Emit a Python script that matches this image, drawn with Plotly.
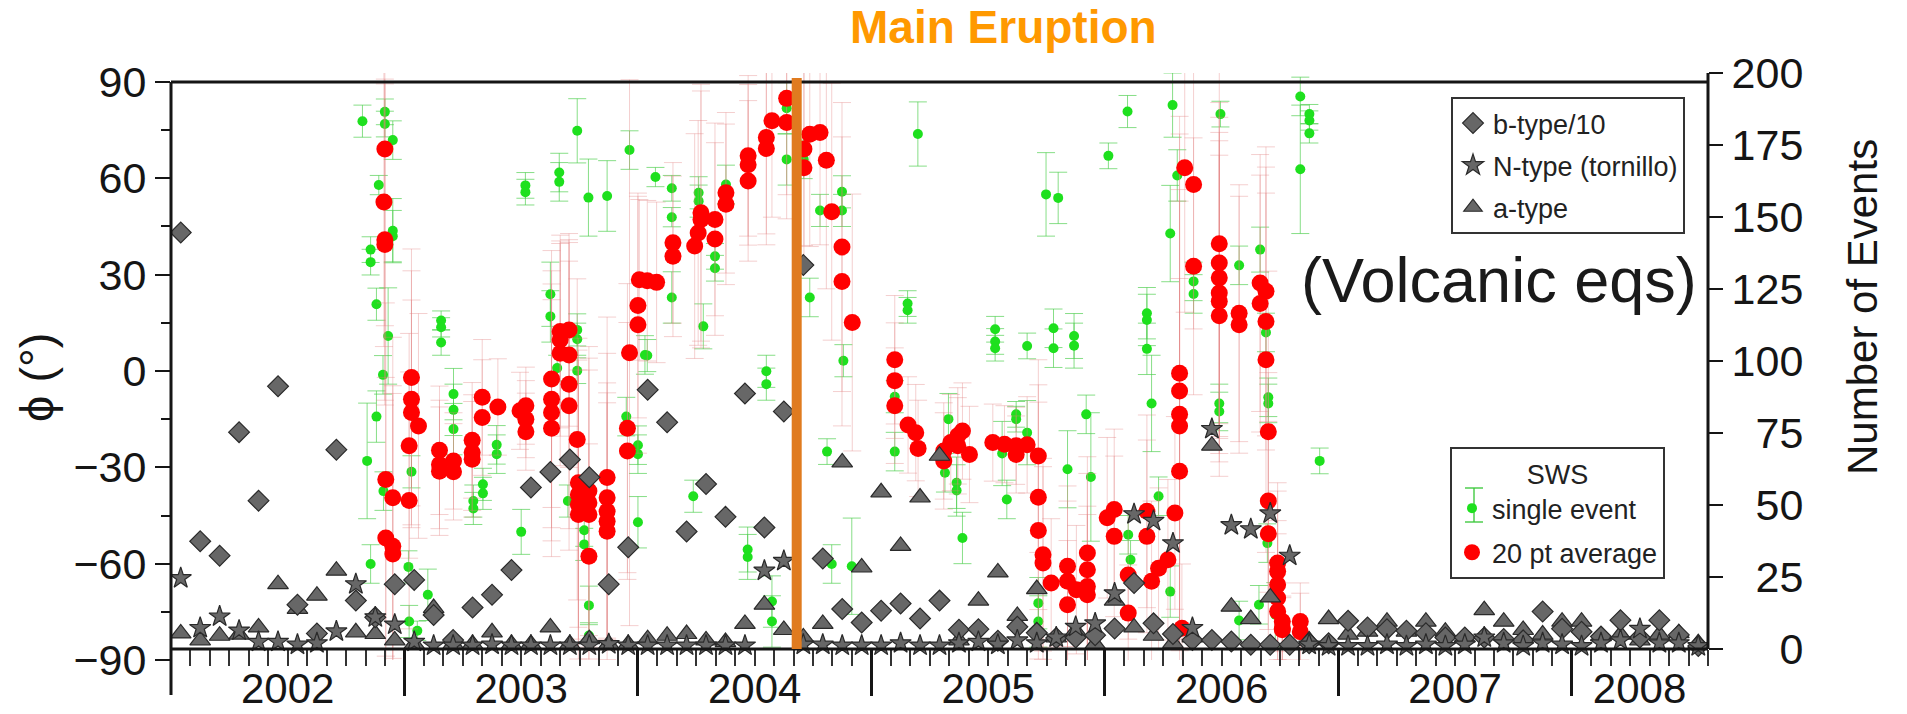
import plotly.graph_objects as go

# ------------------------------------------------------------------ data
# monthly bins Jan 2002 .. Jul 2008 (bin centres, decimal years)
MONTHS = [2002 + (i + 0.5) / 12 for i in range(79)]

B_TYPE_10 = [
    144.6, 37.4, 32.4, 75.3, 51.5, 91.2, 15.4, 5.4, 69.2, 16.8, 11.0, 22.5,
    24.0, 11.8, 3.1, 14.4, 18.8, 27.4, 56.1, 61.5, 65.8, 59.6, 22.5, 35.3,
    90.0, 78.7, 40.8, 57.3, 45.9, 88.7, 42.2, 82.5, 133.3, 31.4, 13.9, 9.2,
    13.3, 15.8, 10.6, 16.8, 6.7, 6.9, 2.9, 7.7, 5.6, 3.8, 4.0, 4.8,
    7.1, 22.9, 8.9, 5.2, 3.1, 3.1, 2.6, 1.5, 1.5, 1.5, 2.0, 2.0,
    9.8, 7.5, 6.9, 6.3, 5.5, 4.0, 4.0, 4.0, 3.5, 3.0, 13.0, 7.0,
    6.0, 4.3, 10.0, 4.0, 10.0, 4.9, 1.0,
]
N_TYPE = [
    24.6, 7.3, 11.3, 6.4, 2.5, 2.5, 1.5, 2.0, 6.1, 22.5, 11.0, 8.5,
    2.5, 1.2, 1.2, 1.2, 1.5, 1.2, 1.2, 1.2, 1.2, 1.2, 1.7, 1.2,
    1.2, 1.2, 1.2, 1.2, 1.2, 1.2, 27.2, 30.6, 1.5, 1.5, 1.2, 1.2,
    1.2, 2.0, 1.2, 1.2, 2.0, 2.5, 1.5, 3.0, 2.0, 4.0, 7.7, 8.9,
    19.3, 46.8, 44.5, 36.7, 7.3, 76.4, 43.0, 41.6, 47.1, 32.4, 1.5, 1.0,
    1.0, 1.0, 1.5, 1.0, 1.5, 1.0, 1.5, 4.0, 2.0, 1.0, 2.0, 1.5,
    1.0, 2.0, 3.0, 7.0, 2.0, 2.0, 1.0,
]
A_TYPE = [
    5.4, 3.0, 4.6, 5.0, 7.5, 22.5, 13.9, 18.5, 27.2, 5.8, 5.2, 3.0,
    1.7, 14.2, 1.7, 1.7, 5.8, 1.7, 1.7, 7.5, 1.7, 3.4, 1.7, 1.7,
    3.4, 4.6, 5.2, 3.0, 2.4, 8.7, 15.4, 6.6, 4.0, 8.7, 64.8, 28.3,
    54.4, 35.8, 52.6, 67.1, 3.0, 16.8, 26.6, 11.5, 20.8, 4.0, 6.3, 1.7,
    16.8, 7.5, 4.6, 2.0, 4.0, 70.6, 14.7, 10.4, 17.9, 1.7, 3.0, 10.4,
    5.0, 6.0, 9.5, 6.0, 9.5, 6.0, 4.0, 13.5, 9.5, 6.6, 5.0, 9.5,
    9.5, 4.5, 5.0, 3.0, 5.0, 5.5, 2.0,
]

# SWS single events: time (decimal year), phi (deg), error (deg)
GREEN_X = [
    2002.820, 2002.916, 2002.916, 2002.950, 2002.890, 2002.950, 2002.950, 2002.855,
    2002.855, 2002.880, 2002.930, 2003.157, 2003.157, 2003.157, 2003.518, 2003.518,
    2003.663, 2003.663, 2003.740, 2003.788, 2003.868, 2003.964, 2004.075, 2004.145,
    2004.145, 2004.145, 2003.625, 2003.625, 2003.740, 2003.740, 2004.030, 2004.260,
    2004.260, 2004.280, 2004.330, 2004.330, 2004.377, 2004.637, 2004.637, 2004.710,
    2004.736, 2004.780, 2004.874, 2004.874, 2005.199, 2005.155, 2005.155, 2005.530,
    2005.530, 2005.530, 2005.667, 2005.748, 2005.800, 2005.780, 2005.780, 2005.868,
    2005.868, 2006.015, 2006.097, 2006.180, 2006.180, 2006.180, 2006.290, 2006.310,
    2006.280, 2006.380, 2006.380, 2006.495, 2006.575, 2006.665, 2006.690, 2006.837,
    2006.876, 2006.876, 2006.876, 2006.837,
    2002.908, 2002.880, 2002.840, 2002.910, 2002.855, 2003.017, 2003.100, 2003.055,
    2003.020, 2003.030, 2003.210, 2003.210, 2003.210, 2003.295, 2003.295, 2003.336,
    2003.336, 2003.395, 2003.395, 2003.500, 2003.654, 2003.740, 2003.700, 2003.770,
    2003.770, 2003.790, 2003.790, 2003.950, 2004.000, 2004.000, 2004.000, 2004.040,
    2004.237, 2004.880, 2004.810, 2004.470, 2004.470, 2004.830, 2004.916, 2004.550,
    2004.550, 2004.574, 2004.574, 2005.100, 2005.100, 2005.330, 2005.315, 2005.365,
    2005.365, 2005.390, 2005.560, 2005.580, 2005.620, 2005.620, 2005.667, 2005.840,
    2005.920, 2005.940, 2006.100, 2006.110, 2006.200, 2006.230, 2006.280, 2006.490,
    2006.490, 2006.660, 2006.700, 2006.700, 2006.575, 2005.715, 2005.715, 2006.696,
    2006.730, 2006.920,
]
GREEN_Y = [
    77.8, 80.7, 76.9, 71.9, 57.9, 43.7, 42.0, 37.8,
    33.9, 20.8, 10.9, 15.7, 13.6, 8.9, 57.8, 55.7,
    61.8, 58.9, 74.8, 54.0, 54.5, 68.8, 60.4, 56.9,
    47.9, 22.9, 23.9, 17.0, 12.8, 9.9, 5.0, 55.5,
    52.9, 13.9, 35.7, 32.0, 58.1, 81.8, 65.9, 65.9,
    22.9, 50.0, 55.8, 50.0, 73.8, 21.0, 18.9, 13.0,
    9.2, 7.1, 7.8, 55.0, 53.9, 13.3, 7.1, 10.9,
    7.9, 67.0, 80.8, 18.0, 15.9, 6.9, 82.8, 60.9,
    42.8, 27.9, 24.0, 80.0, 32.9, 37.8, 12.0, 85.5,
    80.0, 78.0, 74.0, 62.8,
    -1.2, -14.2, -28.0, -37.4, -60.1, -61.0, -69.7, -80.9,
    -78.0, -31.4, -7.2, -12.1, -18.1, -40.5, -42.8, -35.3,
    -38.1, -23.0, -25.9, -50.1, 0.9, 0.1, -40.5, -49.6,
    -54.0, -73.0, -82.4, -14.2, -23.1, -25.9, -47.1, 4.8,
    -39.0, 3.2, -25.1, -55.6, -57.9, -60.1, -60.8, -0.1,
    -4.1, -71.8, -78.0, -25.1, -8.0, -15.0, -31.7, -34.8,
    -37.2, -52.0, -25.7, -40.0, -13.5, -15.0, -19.2, -30.6,
    -13.5, -33.0, -51.0, -58.8, -10.1, -39.0, -68.7, -10.1,
    -12.6, -72.8, -8.2, -10.1, -77.7, -72.3, -78.0, -53.6,
    -75.9, -28.0,
]
GREEN_ERR = [
    5, 4, 4, 6, 3, 10, 8, 4,
    4, 5, 15, 3, 3, 4, 4, 4,
    6, 6, 10, 12, 11, 6, 3, 4,
    3, 8, 10, 8, 5, 5, 6, 5,
    5, 7, 4, 4, 6, 8, 8, 6,
    6, 5, 5, 5, 10, 4, 4, 4,
    4, 4, 4, 13, 8, 6, 6, 7,
    7, 4, 5, 8, 8, 8, 10, 8,
    15, 6, 6, 4, 6, 7, 6, 6,
    3, 3, 3, 20,
    6, 8, 18, 6, 6, 5, 8, 3,
    5, 5, 8, 8, 8, 5, 5, 5,
    5, 6, 6, 7, 4, 4, 5, 5,
    5, 6, 4, 6, 6, 6, 8, 5,
    5, 5, 4, 7, 7, 6, 15, 5,
    5, 8, 8, 6, 5, 8, 6, 8,
    8, 8, 10, 6, 4, 4, 10, 12,
    6, 20, 6, 6, 15, 6, 8, 6,
    6, 6, 6, 6, 6, 8, 8, 6,
    10, 4,
]

# SWS 20-point running averages: time, phi, error
RED_X = [
    2002.916, 2002.912, 2002.916, 2002.916,
    2003.667, 2003.705, 2003.667, 2003.667, 2003.705,
    2003.964,
    2004.000, 2004.000,
    2004.006, 2004.040, 2004.080,
    2004.150, 2004.150,
    2004.243, 2004.258, 2004.270, 2004.270, 2004.330, 2004.330,
    2004.377, 2004.377,
    2004.472, 2004.472, 2004.472,
    2004.550, 2004.550,
    2004.574,
    2004.637, 2004.637,
    2004.711, 2004.711,
    2004.736, 2004.780,
    2004.807, 2004.830,
    2004.874, 2004.874,
    2004.918,
    2005.100,
    2006.342, 2006.380, 2006.380,
    2006.490, 2006.490, 2006.490, 2006.490, 2006.490, 2006.490,
    2006.575, 2006.575,
    2006.665, 2006.690, 2006.665, 2006.690, 2006.690,
    2002.920, 2002.950, 2002.920, 2002.950, 2002.950,
    2003.030, 2003.030, 2003.030, 2003.060, 2003.020, 2003.020,
    2003.150, 2003.150, 2003.150,
    2003.210, 2003.210,
    2003.290, 2003.290, 2003.290,
    2003.333, 2003.333,
    2003.400,
    2003.495, 2003.520, 2003.520, 2003.520,
    2003.630, 2003.630, 2003.630, 2003.630,
    2003.705, 2003.705,
    2003.740, 2003.745, 2003.745, 2003.745, 2003.745,
    2003.790, 2003.790, 2003.790, 2003.790,
    2003.868, 2003.868, 2003.868, 2003.868, 2003.868,
    2003.955, 2003.955,
    2005.100, 2005.100,
    2005.157, 2005.190, 2005.200,
    2005.310, 2005.310, 2005.340, 2005.370, 2005.370, 2005.390, 2005.420,
    2005.520, 2005.570, 2005.620, 2005.620, 2005.667,
    2005.715, 2005.715, 2005.715, 2005.735, 2005.735,
    2005.770,
    2005.840, 2005.840, 2005.840,
    2005.925, 2005.925, 2005.925, 2005.925,
    2005.878,
    2006.010, 2006.040, 2006.040,
    2006.100, 2006.100,
    2006.180, 2006.180,
    2006.200, 2006.230, 2006.270, 2006.300,
    2006.320, 2006.320, 2006.320, 2006.320, 2006.320,
    2006.330,
    2006.700, 2006.700, 2006.700,
    2006.740, 2006.740, 2006.740, 2006.740, 2006.740,
    2006.760, 2006.760, 2006.760,
    2006.837, 2006.837,
]
RED_Y = [
    69.1, 52.6, 40.9, 39.4,
    12.3, 12.8, 9.7, 5.5, 5.0,
    5.7,
    20.4, 14.4,
    28.4, 28.1, 27.6,
    39.9, 35.7,
    38.9, 43.0, 47.2, 49.3, 47.2, 41.1,
    55.5, 51.9,
    67.0, 64.2, 59.2,
    69.3, 72.7,
    77.9,
    84.9, 77.4,
    69.1, 63.3,
    73.75, 74.3,
    65.6, 49.6,
    38.6, 27.9,
    15.1,
    3.5,
    63.3, 58.1, 32.6,
    39.6, 33.6, 29.0, 24.3, 21.7, 17.2,
    18.0, 14.4,
    27.4, 24.8, 21.0, 15.4, 3.5,
    -33.8, -39.5, -52.0, -54.6, -57.0,
    -2.0, -8.8, -12.9, -17.1, -23.3, -40.3,
    -24.7, -29.1, -31.2,
    -28.0, -31.4,
    -21.6, -25.4, -27.5,
    -8.2, -14.5,
    -11.2,
    -12.4, -10.8, -15.0, -18.9,
    -2.5, -8.8, -12.9, -17.8,
    -4.1, -10.8,
    -21.3, -34.8, -38.5, -41.6, -44.7,
    -37.4, -41.0, -44.7, -57.7,
    -33.2, -39.5, -43.7, -46.8, -49.9,
    -17.8, -24.9,
    -3.0, -10.8,
    -16.8, -19.2, -24.1,
    -24.9, -28.0, -22.3, -20.2, -23.3, -18.7, -26.0,
    -22.3, -22.8, -23.3, -26.0, -23.0,
    -26.5, -39.3, -49.7, -57.2, -59.8,
    -66.0,
    -60.8, -65.5, -72.8,
    -56.7, -61.9, -67.1, -69.7,
    -68.1,
    -45.7, -43.1, -51.5,
    -63.5, -75.4,
    -43.7, -51.5,
    -65.5, -61.4, -58.8, -44.2,
    -0.7, -6.2, -13.5, -17.1, -31.2,
    -80.1,
    -18.9, -40.5, -50.7,
    -59.8, -62.4, -66.6, -70.7, -74.9,
    -78.0, -80.1, -80.6,
    -78.0, -81.2,
]
RED_ERR = [
    55, 45, 50, 50,
    30, 30, 30, 35, 35,
    85,
    35, 40,
    25, 25, 25,
    25, 25,
    35, 35, 40, 40, 30, 30,
    25, 25,
    25, 25, 25,
    30, 30,
    30,
    30, 30,
    30, 30,
    35, 35,
    40, 40,
    45, 45,
    40,
    20,
    45, 45, 40,
    60, 50, 50, 50, 50, 50,
    40, 40,
    40, 45, 40, 40, 60,
    55, 50, 50, 50, 50,
    40, 40, 35, 35, 35, 40,
    20, 20, 20,
    15, 15,
    18, 18, 18,
    18, 18,
    15,
    12, 12, 12, 12,
    40, 40, 40, 40,
    45, 45,
    50, 45, 45, 45, 45,
    45, 45, 45, 35,
    50, 45, 40, 40, 40,
    45, 40,
    18, 18,
    15, 15, 15,
    15, 15, 15, 15, 15, 15, 15,
    12, 12, 12, 12, 15,
    30, 35, 40, 30, 30,
    20,
    25, 25, 20,
    30, 30, 25, 25,
    20,
    25, 25, 25,
    20, 15,
    30, 30,
    25, 25, 25, 30,
    80, 80, 70, 70, 60,
    20,
    50, 40, 35,
    25, 25, 20, 20, 15,
    12, 10, 10,
    12, 12,
]

ERUPTION = 2004.68          # main eruption (Sep 2004)
YEAR_LABELS = ["2002", "2003", "2004", "2005", "2006", "2007", "2008"]
YEAR_CENTERS = [2002.5, 2003.5, 2004.5, 2005.5, 2006.5, 2007.5, 2008.29]
YEAR_BOUNDS = [2003, 2004, 2005, 2006, 2007, 2008]
MONTH_TICKS = [2002 + k / 12 for k in range(80)]
X_RANGE = [2002.0, 2008 + 7 / 12]
PHI_TICKS = [-90, -60, -30, 0, 30, 60, 90]
PHI_MINOR = [-75, -45, -15, 15, 45, 75]
COUNT_TICKS = [0, 25, 50, 75, 100, 125, 150, 175, 200]

# ------------------------------------------------------------------ layout geometry
W, H = 1907, 714
ML, MR, MT, MB = 171, 199, 73, 54
PW, PH = W - ML - MR, H - MT - MB


def px_x(px):
    return (px - ML) / PW


def px_y(py):
    return (H - MB - py) / PH


FONT = "Liberation Sans, Arial, Helvetica, sans-serif"
INK = "#151515"
FS = "\u2007"

fig = go.Figure()

fig.add_trace(go.Scatter(
    x=GREEN_X, y=GREEN_Y, mode="markers", name="single event",
    marker=dict(color="#1ee01e", size=10),
    error_y=dict(type="data", array=GREEN_ERR, color="rgba(70,205,70,0.65)",
                 thickness=1, width=9),
    legend="legend2", legendgroup="g", legendrank=1,
))
fig.add_trace(go.Scatter(
    x=RED_X, y=RED_Y, mode="markers", name="20 pt average",
    marker=dict(color="#ff0000", size=17),
    error_y=dict(type="data", array=RED_ERR, color="rgba(225,130,130,0.38)",
                 thickness=1, width=9),
    legend="legend2", legendgroup="r", legendrank=2,
))

GRAY = dict(color="#676767", line=dict(color="#2a2a2a", width=1.2))
for name, vals, sym, size, rank in [
    ("a-type", A_TYPE, "triangle-up", 18, 3),
    ("b-type/10", B_TYPE_10, "diamond", 16, 1),
    ("N-type (tornillo)", N_TYPE, "star", 16, 2),
]:
    fig.add_trace(go.Scatter(
        x=MONTHS, y=vals, xaxis="x2", yaxis="y2", mode="markers", name=name,
        marker=dict(symbol=sym, size=size, **GRAY),
        legend="legend", legendgroup=name, legendrank=rank,
    ))

axis_pos = px_y(649)
LEG_EB_X, LEG_EB_Y = px_x(1474), px_y(505)   # error-bar glyph in SWS legend
EB_COL = "rgba(60,200,60,0.9)"
fig.update_layout(
    width=W, height=H,
    margin=dict(l=ML, r=MR, t=MT, b=MB, pad=0, autoexpand=False),
    paper_bgcolor="white", plot_bgcolor="white",
    font=dict(family=FONT, color=INK),
    showlegend=True,
    xaxis=dict(
        range=X_RANGE, anchor="free", position=axis_pos, automargin=False,
        tickmode="array", tickvals=YEAR_CENTERS, ticktext=YEAR_LABELS,
        ticks="outside", ticklen=3, tickcolor="rgba(0,0,0,0)",
        tickfont=dict(size=42, family=FONT, color=INK),
        showline=False, showgrid=False, zeroline=False,
        minor=dict(tickmode="array", tickvals=MONTH_TICKS, ticks="outside",
                   ticklen=16, tickwidth=1.5, tickcolor="#333", showgrid=False),
    ),
    xaxis2=dict(
        range=X_RANGE, overlaying="x", anchor="free", position=axis_pos,
        automargin=False,
        tickmode="array", tickvals=YEAR_BOUNDS, ticks="outside", ticklen=46,
        tickwidth=2.5, tickcolor=INK, showticklabels=False,
        showline=False, showgrid=False, zeroline=False,
    ),
    yaxis=dict(
        range=[-90, 92.8], tickmode="array", tickvals=PHI_TICKS, automargin=False,
        ticks="outside", ticklen=15, tickwidth=2, tickcolor=INK,
        tickfont=dict(size=43, family=FONT, color=INK),
        showline=False, showgrid=False, zeroline=False,
        minor=dict(tickmode="array", tickvals=PHI_MINOR, ticks="outside",
                   ticklen=9, tickwidth=2, tickcolor=INK, showgrid=False),
    ),
    yaxis2=dict(
        range=[-3.82, 200], overlaying="y", side="right", automargin=False,
        tickmode="array", tickvals=COUNT_TICKS,
        ticktext=[f"{v:>3}".replace(" ", FS) for v in COUNT_TICKS],
        ticks="outside", ticklen=14, tickwidth=2, tickcolor=INK,
        tickfont=dict(size=43, family=FONT, color=INK),
        showline=False, showgrid=False, zeroline=False,
    ),
    legend=dict(
        x=px_x(1451), y=px_y(97), xanchor="left", yanchor="top",
        bgcolor="white", bordercolor="#333", borderwidth=2,
        font=dict(size=27, family=FONT, color="#222"),
        tracegroupgap=4,
    ),
    legend2=dict(
        x=px_x(1450), y=px_y(447), xanchor="left", yanchor="top",
        bgcolor="rgba(255,255,255,0)", bordercolor="#333", borderwidth=2,
        font=dict(size=27, family=FONT, color="#222"),
        title=dict(text="SWS", side="top center",
                   font=dict(size=27, family=FONT, color="#222")),
        tracegroupgap=6, entrywidth=190,
    ),
    shapes=[
        dict(type="line", xref="paper", yref="y", x0=0, x1=1, y0=90, y1=90,
             line=dict(color=INK, width=3)),
        dict(type="line", xref="paper", yref="y2", x0=0, x1=1, y0=0, y1=0,
             line=dict(color=INK, width=3)),
        dict(type="line", xref="paper", yref="paper", x0=0, x1=0,
             y0=px_y(695), y1=px_y(82), line=dict(color=INK, width=3)),
        dict(type="line", xref="paper", yref="y2", x0=1, x1=1, y0=0, y1=200,
             line=dict(color=INK, width=3)),
        dict(type="line", xref="x", yref="paper", x0=ERUPTION, x1=ERUPTION,
             y0=px_y(649), y1=px_y(78), line=dict(color="#e07b1f", width=10)),
        # error-bar glyph next to the "single event" legend marker
        dict(type="line", xref="paper", yref="paper", x0=LEG_EB_X, x1=LEG_EB_X,
             y0=LEG_EB_Y - 17 / PH, y1=LEG_EB_Y + 17 / PH,
             line=dict(color=EB_COL, width=1.5)),
        dict(type="line", xref="paper", yref="paper", x0=LEG_EB_X - 9 / PW,
             x1=LEG_EB_X + 9 / PW, y0=LEG_EB_Y - 17 / PH, y1=LEG_EB_Y - 17 / PH,
             line=dict(color=EB_COL, width=1.5)),
        dict(type="line", xref="paper", yref="paper", x0=LEG_EB_X - 9 / PW,
             x1=LEG_EB_X + 9 / PW, y0=LEG_EB_Y + 17 / PH, y1=LEG_EB_Y + 17 / PH,
             line=dict(color=EB_COL, width=1.5)),
    ],
    annotations=[
        dict(text="<b>Main Eruption</b>", xref="paper", yref="paper",
             x=px_x(1003), y=px_y(27), xanchor="center", yanchor="middle",
             showarrow=False, font=dict(size=46, family=FONT, color="#ff9900")),
        dict(text="(Volcanic eqs)", xref="paper", yref="paper",
             x=px_x(1499), y=px_y(280), xanchor="center", yanchor="middle",
             showarrow=False, font=dict(size=63, family=FONT, color="#1a1a1a")),
        dict(text="\u03d5 (\u00b0)", xref="paper", yref="paper", textangle=-90,
             x=px_x(36), y=px_y(378), xanchor="center", yanchor="middle",
             showarrow=False, font=dict(size=47, family=FONT, color=INK)),
        dict(text="Number of Events", xref="paper", yref="paper", textangle=-90,
             x=px_x(1862), y=px_y(307), xanchor="center", yanchor="middle",
             showarrow=False, font=dict(size=42, family=FONT, color=INK)),
    ],
)

fig.write_html("out.html")
